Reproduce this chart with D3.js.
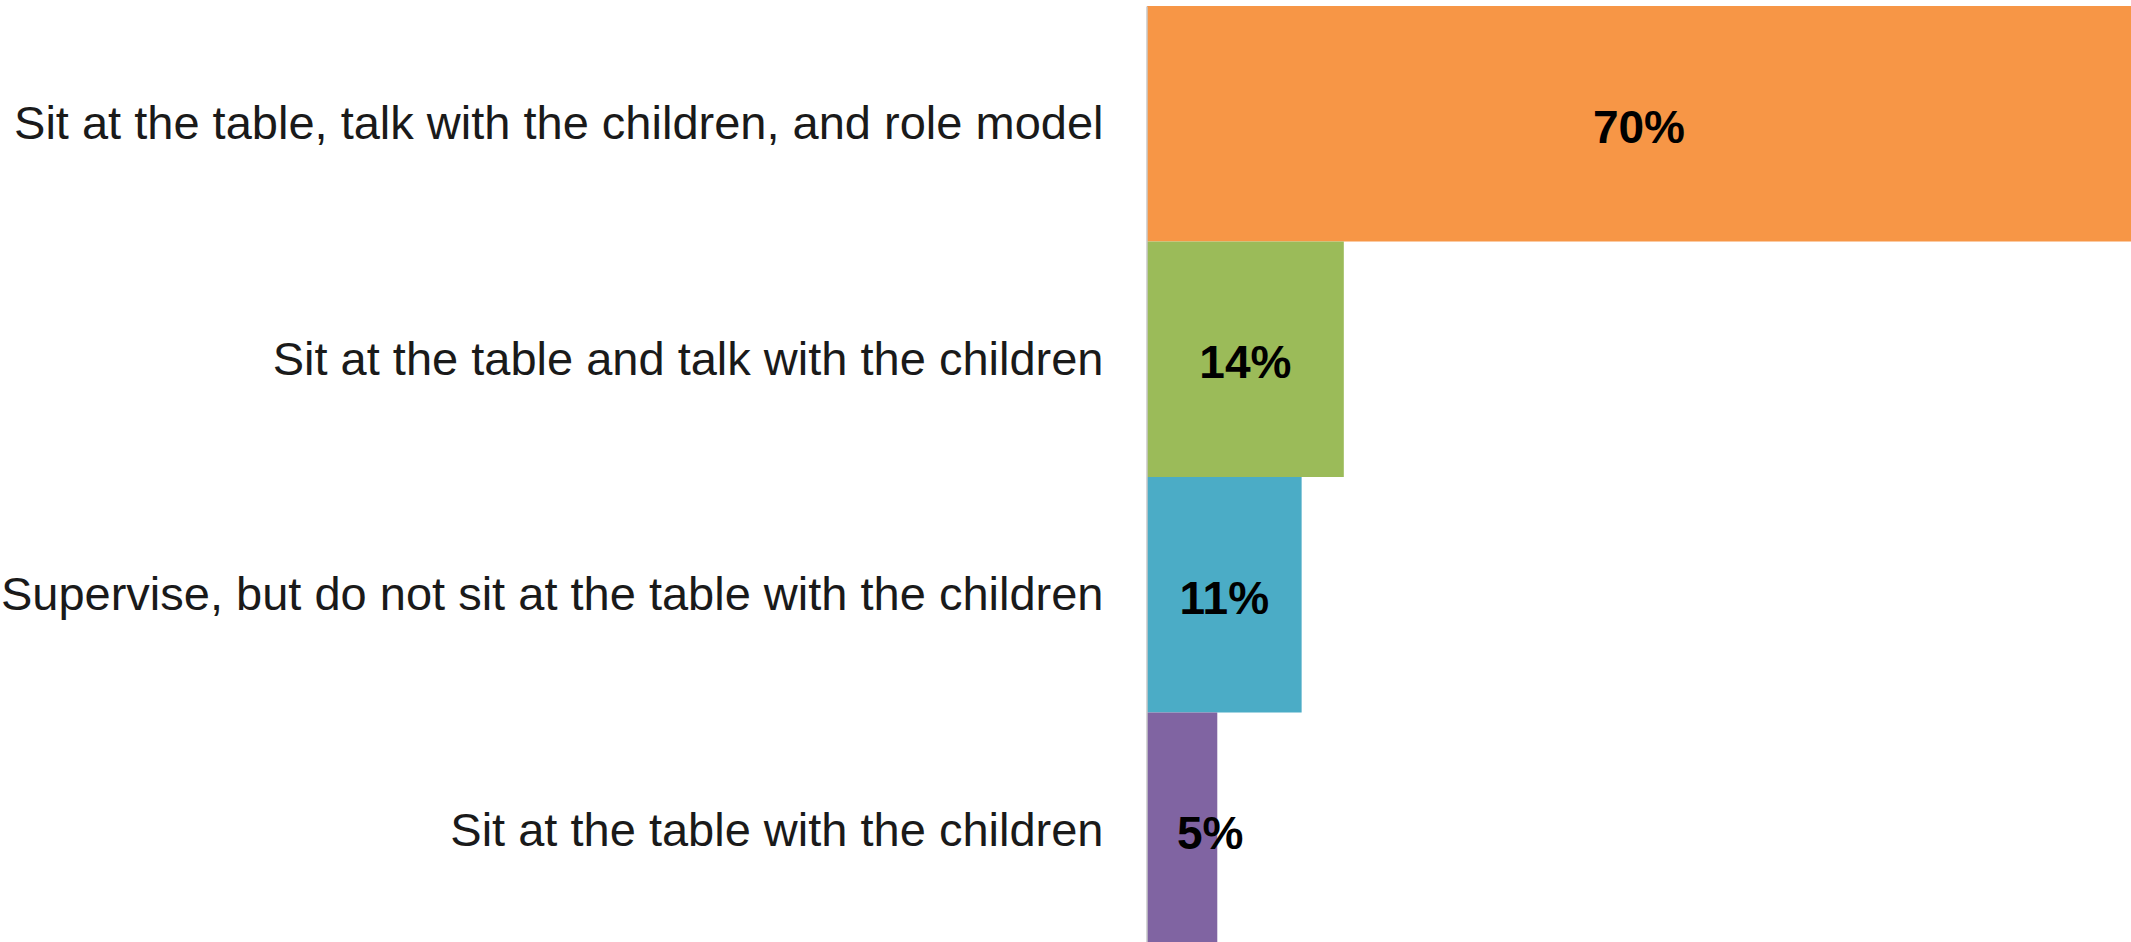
<!DOCTYPE html>
<html>
<head>
<meta charset="utf-8">
<script src="https://cdn.jsdelivr.net/npm/d3@7"></script>
<style>
  html, body { margin: 0; padding: 0; background: #fff; overflow: hidden; }
  svg { display: block; }
</style>
</head>
<body>
<svg id="chart" width="2131" height="942"></svg>
<script>
// Survey responses: what adults do at mealtimes
const categories = [
  "Sit at the table, talk with the children, and role model",
  "Sit at the table and talk with the children",
  "Supervise, but do not sit at the table with the children",
  "Sit at the table with the children"
];
const values = [70, 14, 11, 5];
const colors = ["#F79646", "#9BBB59", "#4BACC6", "#8064A2"];

const width = 2131, height = 942;
const margin = { top: 6, left: 1147 };
const plotBottom = 948;   // last band runs past the bottom edge

const svg = d3.select("#chart");

const x = d3.scaleLinear()
  .domain([0, 70])
  .range([margin.left, width]);

const y = d3.scaleBand()
  .domain(categories)
  .range([margin.top, plotBottom])
  .padding(0);

// bars
svg.append("g")
  .selectAll("rect")
  .data(values)
  .join("rect")
  .attr("x", x(0))
  .attr("y", (d, i) => y(categories[i]))
  .attr("width", d => x(d) - x(0))
  .attr("height", y.bandwidth())
  .attr("fill", (d, i) => colors[i]);

// category axis
const axis = svg.append("g")
  .attr("transform", `translate(${x(0) - 0.5},0)`)
  .call(d3.axisLeft(y).tickSize(0).tickPadding(43));
axis.select(".domain").attr("stroke", "#c8c8c8").attr("stroke-width", 1.5);
axis.selectAll("text")
  .attr("font-family", "Liberation Sans, Arial, sans-serif")
  .attr("font-size", 47)
  .attr("dy", "0.33em")
  .attr("fill", "#1a1a1a");

// value labels
const labels = svg.append("g")
  .selectAll("text")
  .data(values)
  .join("text")
  .attr("y", (d, i) => y(categories[i]) + y.bandwidth() / 2)
  .attr("dy", "0.41em")
  .attr("text-anchor", "middle")
  .attr("font-family", "Liberation Sans, Arial, sans-serif")
  .attr("font-weight", "bold")
  .attr("font-size", 46)
  .attr("fill", "#000")
  .text(d => d + "%");

labels.attr("x", function (d) {
  const mid = (x(0) + x(d)) / 2;
  const w = this.getComputedTextLength();
  return Math.max(mid, x(0) + 30 + w / 2);
});
</script>
</body>
</html>
